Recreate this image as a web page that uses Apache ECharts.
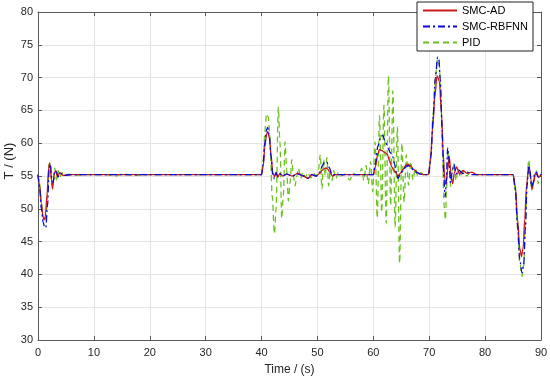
<!DOCTYPE html>
<html><head><meta charset="utf-8">
<script src="https://cdn.jsdelivr.net/npm/echarts@6/dist/echarts.min.js"></script>
<style>html,body{margin:0;padding:0;background:#fff}#c{width:550px;height:380px}</style>
</head><body><div id="c"></div><script>
const seriesNames = ['SMC-AD', 'SMC-RBFNN', 'PID'];
const xLabel = 'Time / (s)';
const yLabel = 'T / (N)';

// [time (s), T (N)]
const smcAD = [[0,55.2],[0.3,53.5],[0.6,50.8],[0.9,48.8],[1.1,48.3],[1.3,48.8],[1.6,52],[1.9,56.2],[2.1,57.0],[2.4,54.5],[2.6,53.0],[2.9,55.4],[3.2,55.8],[3.5,54.8],[3.9,55.5],[4.5,55.1],[6,55.2],[20,55.2],[40,55.2],[40.3,56.5],[40.6,59.5],[40.9,61.4],[41.1,61.8],[41.4,60.8],[41.7,58.2],[42.0,55.5],[42.3,54.9],[42.6,55.6],[42.9,54.8],[43.3,55.4],[43.8,55.0],[44.5,55.3],[45.5,55.0],[46.5,55.4],[47.5,55.0],[48.3,54.6],[49,55.2],[49.8,55.0],[50.4,55.4],[50.9,55.9],[51.4,56.2],[51.8,56.1],[52.2,55.6],[52.7,55.0],[53.2,55.2],[58,55.2],[60,55.2],[60.4,56.5],[60.8,58.4],[61.1,59.0],[61.5,58.9],[62.0,58.6],[62.5,58.3],[62.9,57.3],[63.3,56.4],[63.7,55.8],[64.1,55.5],[64.4,55.0],[64.8,55.4],[65.3,56.0],[65.8,56.6],[66.2,56.8],[66.7,56.5],[67.2,56.0],[67.8,55.6],[68.4,55.3],[69,55.2],[69.8,55.2],[70.2,57.0],[70.6,62.0],[71.0,67.0],[71.4,70.3],[71.8,69.5],[72.2,64.5],[72.5,58.5],[72.8,54.5],[73.0,53.7],[73.3,56.0],[73.6,58.0],[73.9,55.0],[74.2,53.8],[74.5,55.5],[74.9,56.4],[75.4,55.3],[76,55.8],[76.8,55.4],[77.6,55.6],[78.5,55.2],[85,55.2],[85.4,53.5],[85.8,48.5],[86.2,44.0],[86.5,42.7],[86.8,44.0],[87.1,48.5],[87.4,53.5],[87.7,55.5],[87.9,56.3],[88.2,54.5],[88.4,53.0],[88.7,54.0],[89.0,55.4],[89.3,55.2],[89.6,54.8],[90,55.2]];

const smcRBFNN = [[0,55.2],[0.3,53],[0.6,50],[0.9,48],[1.2,47.2],[1.4,47.1],[1.7,50.5],[2.0,56],[2.2,56.8],[2.5,54.5],[2.7,54],[3.0,55.8],[3.3,55.6],[3.6,54.9],[4.0,55.4],[4.6,55.1],[6,55.2],[20,55.2],[40,55.2],[40.3,57],[40.6,60.2],[40.9,62.1],[41.1,62.4],[41.4,61],[41.7,58],[42.0,55.2],[42.3,54.6],[42.6,55.5],[42.9,54.9],[43.3,55.3],[43.8,55.0],[44.5,55.3],[45.5,55.0],[46.5,55.3],[47.5,55.0],[48.3,54.7],[49,55.2],[49.8,55.0],[50.4,55.6],[50.9,56.6],[51.3,57.2],[51.7,57.1],[52.1,56.3],[52.6,55.2],[53.2,55.2],[60,55.2],[60.4,57],[60.8,59.5],[61.3,61.0],[61.7,61.2],[62.1,60.3],[62.6,59.3],[63.0,58.6],[63.5,57.9],[63.8,56.8],[64.1,55.6],[64.4,54.6],[64.8,55.2],[65.3,55.8],[65.8,56.4],[66.2,56.6],[66.7,56.4],[67.2,55.9],[67.8,55.5],[68.4,55.3],[69,55.2],[69.9,55.2],[70.3,58],[70.7,64],[71.1,70],[71.5,73.1],[71.7,73.0],[72.0,69.5],[72.3,62],[72.6,55],[72.85,51.8],[73.05,54],[73.3,59.3],[73.55,57.5],[73.8,54],[74.1,55.5],[74.4,56.8],[74.8,55.3],[75.3,55.9],[76,55.4],[76.8,55.6],[77.6,55.2],[85,55.2],[85.4,53],[85.8,47.5],[86.2,42.3],[86.6,40.2],[86.9,41.5],[87.2,47],[87.5,53.5],[87.8,56.6],[88.0,55.8],[88.3,53.4],[88.6,54],[88.9,55.5],[89.2,55.6],[89.5,54.8],[90,55.3]];

const pid = [[0,55.2],[0.3,53.8],[0.6,51],[0.9,48.8],[1.2,48.0],[1.5,49.5],[1.8,54],[2.0,57.2],[2.2,56.5],[2.5,53.5],[2.8,54],[3.0,56.2],[3.3,54.4],[3.6,55.8],[3.9,54.8],[4.3,55.5],[4.8,55.0],[5.5,55.3],[6.5,55.1],[8,55.2],[12,55.2],[14,55.0],[15,55.3],[17,55.1],[20,55.2],[25,55.2],[30,55.2],[40,55.2],[40.3,57.5],[40.6,62],[40.9,64.5],[41.2,64],[41.5,61],[41.9,52],[42.3,46.2],[42.6,50],[43.0,65.5],[43.3,60],[43.6,48.5],[43.9,52],[44.2,60.2],[44.5,56],[44.8,51.2],[45.1,54],[45.4,57.5],[45.7,55],[46.0,53.5],[46.3,55],[46.6,56.2],[47.0,54.6],[47.4,55.6],[47.8,54.8],[48.3,55.5],[48.8,54.7],[49.3,55.4],[49.8,55.0],[50.2,56],[50.5,58.3],[50.8,53],[51.1,57.5],[51.4,55],[51.7,57.8],[52.0,53.5],[52.3,56],[52.6,54.3],[52.9,55.8],[53.3,54.6],[53.7,55.5],[54.2,55.0],[55,55.3],[55.8,54.4],[56.4,55.4],[57,55.2],[57.5,55.2],[57.9,56.2],[58.3,54.3],[58.7,56.6],[59.1,53.8],[59.5,57.2],[59.9,52.6],[60.3,60.2],[60.7,48.6],[61.1,64.2],[61.5,49.5],[61.9,65.8],[62.3,47.8],[62.7,70.2],[63.1,50.5],[63.5,68],[63.9,47.2],[64.3,62.5],[64.7,41.7],[65.1,60],[65.5,51],[65.9,58.2],[66.3,53.6],[66.7,57.2],[67.1,54.4],[67.5,56.2],[68,54.9],[68.5,55.5],[69,55.2],[69.9,55.2],[70.3,58.5],[70.7,64.5],[71.1,70.2],[71.5,72.8],[71.8,72],[72.1,67],[72.4,58],[72.65,50.5],[72.9,48.3],[73.1,53],[73.35,59],[73.6,56.5],[73.85,53.4],[74.15,56],[74.45,57],[74.8,54.3],[75.2,56.1],[75.6,54.8],[76.1,55.8],[76.7,55.0],[77.3,55.5],[78,55.2],[85,55.2],[85.4,52.8],[85.8,47],[86.2,41.8],[86.6,39.7],[86.9,41.2],[87.2,47.5],[87.5,54],[87.8,57.5],[88.0,56.4],[88.3,52.8],[88.6,54.2],[88.9,55.2],[89.2,55.8],[89.5,53.8],[89.8,55.0],[90,55.2]];

const chart = echarts.init(document.getElementById('c'), null, {renderer: 'canvas'});
const font = '"Liberation Sans", Arial, Helvetica, sans-serif';
const axisCol = '#5a5a5a';
const labCol = '#262626';
function xAx(top) {
  return {
    type: 'value', min: 0, max: 90, interval: 10, position: top ? 'top' : 'bottom',
    axisLine: {show: true, onZero: false, lineStyle: {color: axisCol, width: 1}},
    axisTick: {show: true, inside: true, length: 4, lineStyle: {color: axisCol}},
    axisLabel: {show: !top, color: labCol, fontSize: 11, margin: 7, fontFamily: font},
    splitLine: {show: !top, lineStyle: {color: '#e4e4e4', width: 1}},
    name: top ? '' : xLabel, nameLocation: 'middle', nameGap: 24, nameMoveOverlap: false,
    nameTextStyle: {fontSize: 12, color: labCol, fontFamily: font}
  };
}
function yAx(right) {
  return {
    type: 'value', min: 30, max: 80, interval: 5, position: right ? 'right' : 'left',
    axisLine: {show: true, onZero: false, lineStyle: {color: axisCol, width: 1}},
    axisTick: {show: true, inside: true, length: 4, lineStyle: {color: axisCol}},
    axisLabel: {show: !right, color: labCol, fontSize: 11, margin: 5, fontFamily: font},
    splitLine: {show: !right, lineStyle: {color: '#e4e4e4', width: 1}},
    name: right ? '' : yLabel, nameLocation: 'middle', nameGap: 22, nameRotate: 90, nameMoveOverlap: false,
    nameTextStyle: {fontSize: 13, color: labCol, fontFamily: font, padding: [0, 0, 0, 30]}
  };
}
const colors = {'SMC-AD': '#cc1a1a', 'SMC-RBFNN': '#0a0ad8', 'PID': '#6cc21e'};
const dashes = {'SMC-AD': 'solid', 'SMC-RBFNN': [7, 3, 2, 3], 'PID': [6, 4]};
const dataMap = {'SMC-AD': smcAD, 'SMC-RBFNN': smcRBFNN, 'PID': pid};
const drawOrder = ['PID', 'SMC-AD', 'SMC-RBFNN'];
chart.setOption({
  animation: false,
  backgroundColor: '#fff',
  textStyle: {fontFamily: font},
  grid: {left: 38, right: 9, top: 12, bottom: 40, containLabel: false, outerBoundsMode: 'none'},
  legend: {
    data: seriesNames, orient: 'vertical', right: 17, top: 2,
    itemWidth: 34, itemHeight: 10, itemGap: 5, padding: [3, 5, 3, 5],
    borderColor: '#222', borderWidth: 1, backgroundColor: '#fff',
    itemStyle: {opacity: 0},
    textStyle: {fontSize: 11, color: '#000', fontFamily: font}
  },
  xAxis: [xAx(false), xAx(true)],
  yAxis: [yAx(false), yAx(true)],
  series: drawOrder.map((n, i) => ({
    name: n, type: 'line', data: dataMap[n], symbol: 'none', showSymbol: false,
    smooth: 0.3, smoothMonotone: 'x', z: 2 + i,
    color: colors[n],
    lineStyle: {color: colors[n], width: 1.3, type: dashes[n]}
  }))
});
</script></body></html>
